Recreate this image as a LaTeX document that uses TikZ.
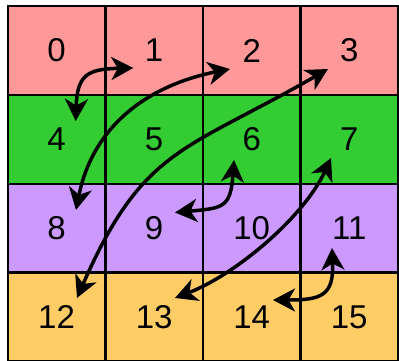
\documentclass[tikz,border=0pt]{standalone}
\usepackage{fontspec}
\setmainfont{Liberation Sans}
\usetikzlibrary{arrows.meta}
\definecolor{rowred}{RGB}{255,153,153}
\definecolor{rowgreen}{RGB}{51,204,51}
\definecolor{rowpurple}{RGB}{204,153,255}
\definecolor{roworange}{RGB}{255,204,102}
\begin{document}
\begin{tikzpicture}[x=1pt,y=-1pt,
  cell/.style={draw=black, line width=2.3pt, minimum width=97.55pt, minimum height=88.8pt,
    inner sep=0pt, font=\fontsize{33}{33}\selectfont, anchor=center},
  link/.style={line width=3.5pt, >={Stealth[length=22pt,width=23pt,inset=6.5pt]}, <->}]
\useasboundingbox (0,0) rectangle (399,360);
\clip (0,0) rectangle (399,360);
\fill[white] (0,0) rectangle (399,360);
\foreach \r/\col in {0/rowred,1/rowgreen,2/rowpurple,3/roworange} {
  \foreach \c in {0,...,3} {
    \pgfmathtruncatemacro\n{4*\r+\c}
    \node[cell, fill=\col] (c\n) at ({56.575+97.55*\c},{50.6+88.8*\r}) {\n};
  }
}
\coordinate (t1) at (133.3,68);
\coordinate (t4) at (75.7,121);
\coordinate (t2) at (230,69);
\coordinate (t8) at (76,210);
\coordinate (t3) at (328,69);
\coordinate (t12) at (77,298);
\coordinate (t6) at (234,160);
\coordinate (t9) at (175,212.5);
\coordinate (t7) at (331,158);
\coordinate (t13) at (175,298);
\coordinate (t11) at (332,248);
\coordinate (t14) at (273,300);
\draw[link] (t4) .. controls +(1.5,-46) and +(-46,1) .. (t1);
\draw[link] (t8) .. controls +(16.7,-83.3) and +(-83.3,16.7) .. (t2);
\draw[link] (t12) .. controls +(66,-151) and +(-143,82.5) .. (t3);
\draw[link] (t9) .. controls +(48,-4.4) and +(-3.4,48) .. (t6);
\draw[link] (t14) .. controls +(48,0) and +(2,48) .. (t11);
\draw[link] (t13) .. controls +(60.5,-23.4) and +(-27.1,59.2) .. (t7);
\end{tikzpicture}
\end{document}
